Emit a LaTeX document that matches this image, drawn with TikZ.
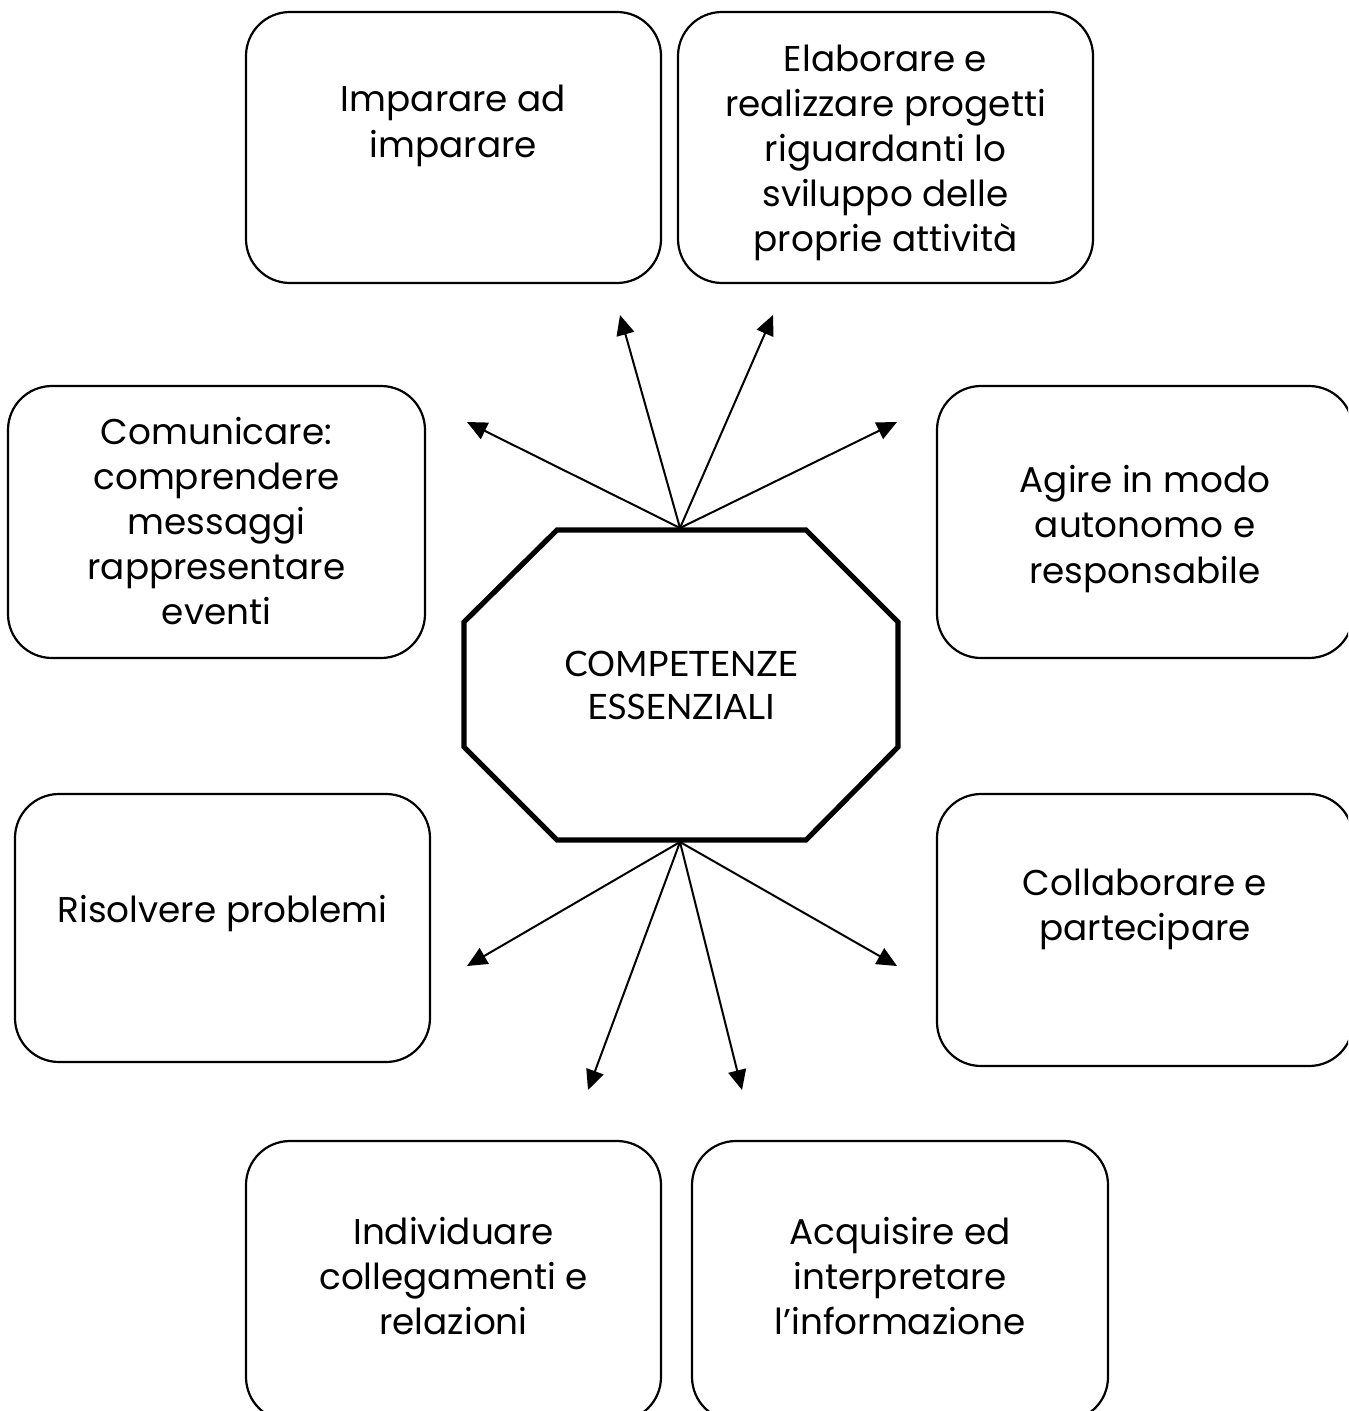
\documentclass[tikz,border=0pt]{standalone}
\usepackage{fontspec}
\setmainfont{Poppins}
\newfontfamily\centerfont{Lato}
\usetikzlibrary{arrows.meta}
\tikzset{
  rbox/.style={draw, line width=1.1pt, rounded corners=22pt, inner sep=0pt},
  txt/.style={align=center, font=\fontsize{17.9}{22.6}\selectfont, inner sep=0pt},
  arr/.style={line width=1pt, -{Triangle[length=10pt,width=9pt]}},
  octo/.style={line width=2.6pt, line join=miter}
}
\begin{document}
\begin{tikzpicture}[x=0.5pt,y=-0.5pt]
\useasboundingbox (0,0) rectangle (1348,1411);
\clip (0,0) rectangle (1348,1411);
% boxes
\node[rbox, minimum width=207.5pt, minimum height=135.5pt] (b1) at (453.5,147.5) {};
\node[rbox, minimum width=207.5pt, minimum height=135.5pt] (b2) at (885.5,147.5) {};
\node[rbox, minimum width=208.5pt, minimum height=136pt] (b3) at (216.5,522) {};
\node[rbox, minimum width=208pt, minimum height=136pt] (b4) at (1145,522) {};
\node[rbox, minimum width=207.5pt, minimum height=134pt] (b5) at (222.5,928) {};
\node[rbox, minimum width=208pt, minimum height=136pt] (b6) at (1145,930) {};
\node[rbox, minimum width=207.5pt, minimum height=140pt] (b7) at (453.5,1281) {};
\node[rbox, minimum width=208pt, minimum height=140pt] (b8) at (900,1281) {};
% texts
\node[txt] (t1) at (453.5,126) {Imparare ad\\imparare};
\node[txt] (t2) at (885.5,153) {Elaborare e\\realizzare progetti\\riguardanti lo\\sviluppo delle\\proprie attività};
\node[txt] (t3) at (216.5,521) {Comunicare:\\comprendere\\messaggi\\rappresentare\\eventi};
\node[txt] (t4) at (1145,529) {Agire in modo\\autonomo e\\responsabile};
\node[txt] (t5) at (222.5,914) {Risolvere problemi};
\node[txt] (t6) at (1145,909) {Collaborare e\\partecipare};
\node[txt] (t7) at (453.5,1276) {Individuare\\collegamenti e\\relazioni};
\node[txt] (t8) at (900,1276) {Acquisire ed\\interpretare\\l’informazione};
% octagon
\draw[octo] (557,530) -- (806,530) -- (898,622) -- (898,747) -- (806,840) -- (557,840) -- (464,747) -- (464,622) -- cycle;
\node[align=center, inner sep=0pt, font=\centerfont\fontsize{17.5}{21.5}\selectfont] (c) at (681,685) {COMPETENZE\\ESSENZIALI};
\coordinate (top) at (680,528);
\coordinate (bot) at (680,842);
\coordinate (u1) at (467,422);
\coordinate (u2) at (620,315);
\coordinate (u3) at (773,315);
\coordinate (u4) at (897,422);
\coordinate (d1) at (467,966);
\coordinate (d2) at (588,1090);
\coordinate (d3) at (742,1090);
\coordinate (d4) at (897,966);
\foreach \e in {u1,u2,u3,u4} \draw[arr] (top) -- (\e);
\foreach \e in {d1,d2,d3,d4} \draw[arr] (bot) -- (\e);
\end{tikzpicture}
\end{document}
